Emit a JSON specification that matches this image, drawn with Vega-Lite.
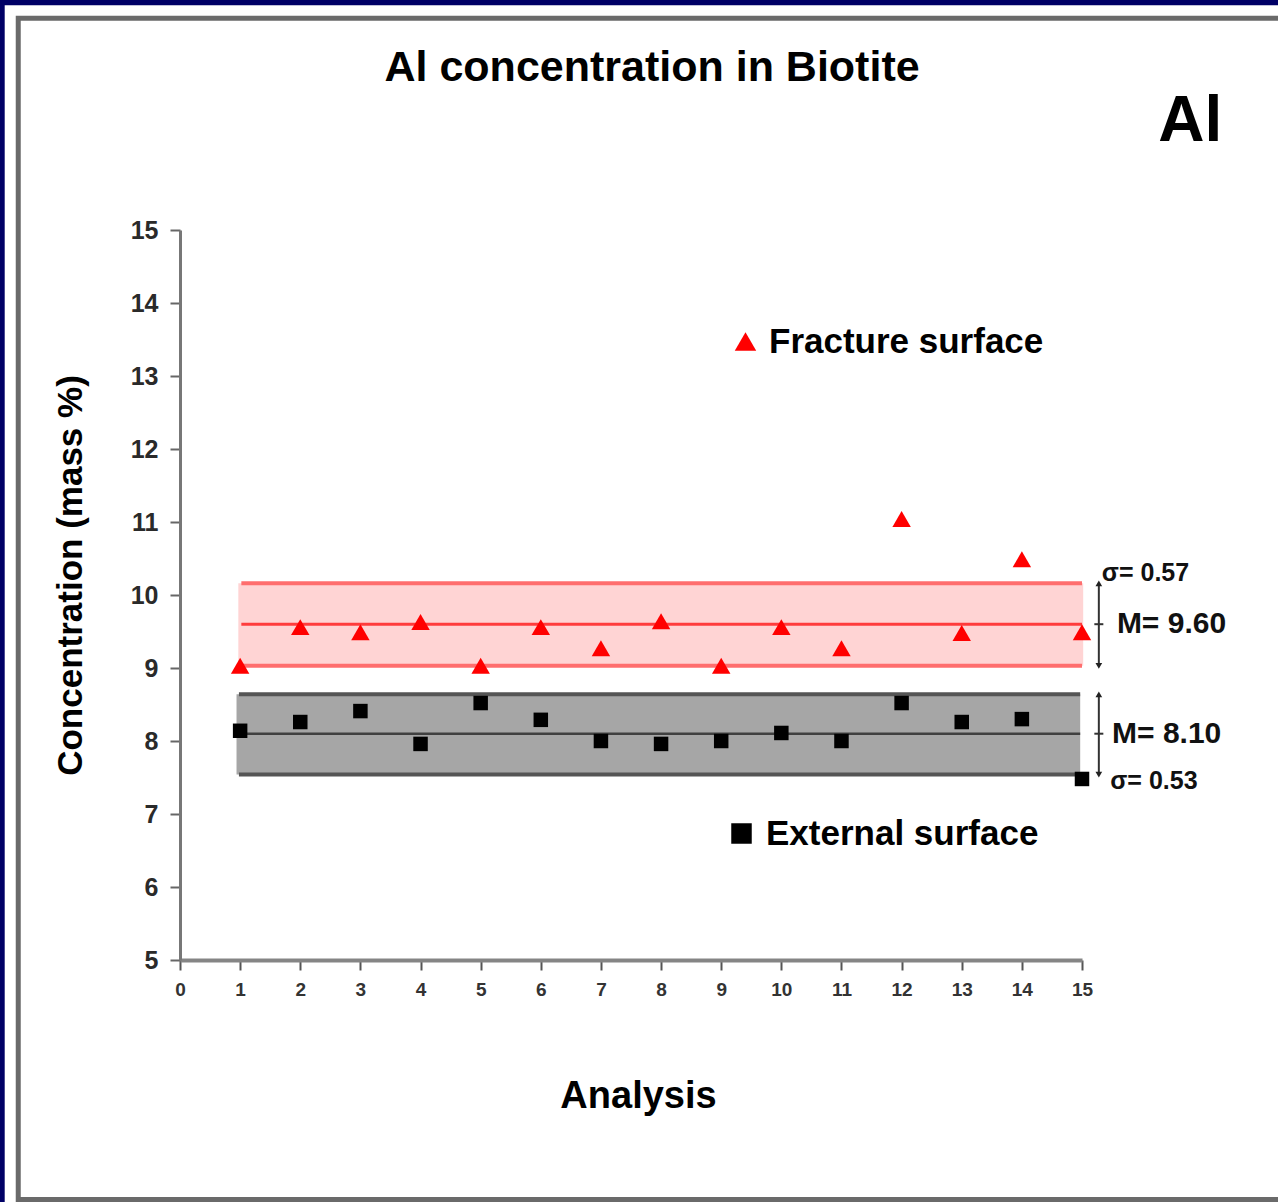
{
  "$schema": "https://vega.github.io/schema/vega-lite/v6.json",
  "width": 902,
  "height": 730,
  "autosize": {"type": "none"},
  "padding": {"left": 180, "top": 230, "right": 196, "bottom": 242},
  "background": "white",
  "config": {
    "view": {"stroke": null},
    "font": "Liberation Sans",
    "axisX": {"grid": false, "zindex": 1, "labelFlush": false, "labelOverlap": false,
      "domainColor": "#858585", "domainWidth": 4, "tickColor": "#555555", "tickWidth": 2, "tickSize": 10,
      "labelFontSize": 19, "labelColor": "#333333", "labelPadding": 10, "labelFontWeight": "bold",
      "titleFontSize": 38, "titleFontWeight": "bold", "titleColor": "#000000",
      "titleX": 458, "titleY": 136, "titleBaseline": "middle", "titleAlign": "center"},
    "axisY": {"grid": false, "zindex": 1, "labelOverlap": false,
      "domainColor": "#777777", "domainWidth": 3, "tickColor": "#666666", "tickWidth": 2, "tickSize": 10,
      "labelFontSize": 25, "labelFontWeight": "bold", "labelColor": "#2a2a2a", "labelPadding": 12,
      "titleFontSize": 35, "titleFontWeight": "bold", "titleColor": "#000000",
      "titleX": -110, "titleY": 345, "titleBaseline": "middle", "titleAlign": "center", "titleAngle": -90}
  },
  "datasets": {
    "points": [
      {"analysis": 1, "value": 9.03, "surface": "Fracture surface"},
      {"analysis": 2, "value": 9.56, "surface": "Fracture surface"},
      {"analysis": 3, "value": 9.49, "surface": "Fracture surface"},
      {"analysis": 4, "value": 9.63, "surface": "Fracture surface"},
      {"analysis": 5, "value": 9.03, "surface": "Fracture surface"},
      {"analysis": 6, "value": 9.56, "surface": "Fracture surface"},
      {"analysis": 7, "value": 9.27, "surface": "Fracture surface"},
      {"analysis": 8, "value": 9.64, "surface": "Fracture surface"},
      {"analysis": 9, "value": 9.03, "surface": "Fracture surface"},
      {"analysis": 10, "value": 9.56, "surface": "Fracture surface"},
      {"analysis": 11, "value": 9.27, "surface": "Fracture surface"},
      {"analysis": 12, "value": 11.04, "surface": "Fracture surface"},
      {"analysis": 13, "value": 9.48, "surface": "Fracture surface"},
      {"analysis": 14, "value": 10.49, "surface": "Fracture surface"},
      {"analysis": 15, "value": 9.49, "surface": "Fracture surface"},
      {"analysis": 1, "value": 8.14, "surface": "External surface"},
      {"analysis": 2, "value": 8.26, "surface": "External surface"},
      {"analysis": 3, "value": 8.41, "surface": "External surface"},
      {"analysis": 4, "value": 7.96, "surface": "External surface"},
      {"analysis": 5, "value": 8.52, "surface": "External surface"},
      {"analysis": 6, "value": 8.29, "surface": "External surface"},
      {"analysis": 7, "value": 8.0, "surface": "External surface"},
      {"analysis": 8, "value": 7.96, "surface": "External surface"},
      {"analysis": 9, "value": 8.0, "surface": "External surface"},
      {"analysis": 10, "value": 8.11, "surface": "External surface"},
      {"analysis": 11, "value": 8.0, "surface": "External surface"},
      {"analysis": 12, "value": 8.52, "surface": "External surface"},
      {"analysis": 13, "value": 8.26, "surface": "External surface"},
      {"analysis": 14, "value": 8.3, "surface": "External surface"},
      {"analysis": 15, "value": 7.48, "surface": "External surface"}
    ],
    "bands": [
      {"surface": "Fracture surface", "mean": 9.6, "sd": 0.57, "lo": 9.03, "hi": 10.16, "meanLabel": "M= 9.60", "sdLabel": "σ= 0.57"},
      {"surface": "External surface", "mean": 8.1, "sd": 0.53, "lo": 7.54, "hi": 8.64, "meanLabel": "M= 8.10", "sdLabel": "σ= 0.53"}
    ]
  },
  "layer": [
    {
      "data": {"name": "points"},
      "transform": [{"filter": "datum.surface === 'Fracture surface'"}],
      "mark": {"type": "point", "opacity": 0, "size": 1},
      "encoding": {
        "x": {"field": "analysis", "type": "quantitative", "title": "Analysis", "scale": {"domain": [0, 15], "nice": false, "zero": false},
          "axis": {"values": [0,1,2,3,4,5,6,7,8,9,10,11,12,13,14,15], "format": "d"}},
        "y": {"field": "value", "type": "quantitative", "title": "Concentration (mass %)", "scale": {"domain": [5, 15], "nice": false, "zero": false},
          "axis": {"values": [5,6,7,8,9,10,11,12,13,14,15], "format": "d"}}
      }
    },
    {
      "data": {"values": [{"panel": "outer"}]},
      "mark": {"type": "rect", "fill": null, "stroke": "#000066", "strokeWidth": 9},
      "encoding": {
        "x": {"datum": -2.99, "type": "quantitative", "title": "Analysis", "scale": {"domain": [0, 15], "nice": false, "zero": false}},
        "x2": {"datum": 18.9},
        "y": {"datum": 18.14, "type": "quantitative", "title": "Concentration (mass %)", "scale": {"domain": [5, 15], "nice": false, "zero": false}},
        "y2": {"datum": 1.2}
      }
    },
    {
      "data": {"values": [{"panel": "frame"}]},
      "mark": {"type": "rect", "fill": null, "stroke": "#6a6a6a", "strokeWidth": 5},
      "encoding": {
        "x": {"datum": -2.69, "type": "quantitative", "title": "Analysis", "scale": {"domain": [0, 15], "nice": false, "zero": false}},
        "x2": {"datum": 18.45},
        "y": {"datum": 17.9, "type": "quantitative", "title": "Concentration (mass %)", "scale": {"domain": [5, 15], "nice": false, "zero": false}},
        "y2": {"datum": 1.72}
      }
    },
    {
      "data": {"name": "bands"},
      "transform": [{"filter": "datum.surface === 'Fracture surface'"}],
      "layer": [
        {
          "mark": {"type": "rect", "fill": "#ffd4d4"},
          "encoding": {
            "x": {"datum": 0.97, "type": "quantitative", "title": "Analysis", "scale": {"domain": [0, 15], "nice": false, "zero": false}},
            "x2": {"datum": 15.02},
            "y": {"field": "lo", "type": "quantitative", "title": "Concentration (mass %)", "scale": {"domain": [5, 15], "nice": false, "zero": false}},
            "y2": {"field": "hi"}
          }
        },
        {
          "mark": {"type": "rule", "color": "#ff6e6e", "strokeWidth": 4},
          "encoding": {
            "x": {"datum": 1.02, "type": "quantitative", "title": "Analysis", "scale": {"domain": [0, 15], "nice": false, "zero": false}},
            "x2": {"datum": 15.0},
            "y": {"field": "hi", "type": "quantitative", "title": "Concentration (mass %)", "scale": {"domain": [5, 15], "nice": false, "zero": false}}
          }
        },
        {
          "mark": {"type": "rule", "color": "#ff6e6e", "strokeWidth": 4},
          "encoding": {
            "x": {"datum": 1.02, "type": "quantitative", "title": "Analysis", "scale": {"domain": [0, 15], "nice": false, "zero": false}},
            "x2": {"datum": 15.0},
            "y": {"field": "lo", "type": "quantitative", "title": "Concentration (mass %)", "scale": {"domain": [5, 15], "nice": false, "zero": false}}
          }
        },
        {
          "mark": {"type": "rule", "color": "#ff3c3c", "strokeWidth": 3},
          "encoding": {
            "x": {"datum": 1.02, "type": "quantitative", "title": "Analysis", "scale": {"domain": [0, 15], "nice": false, "zero": false}},
            "x2": {"datum": 15.0},
            "y": {"field": "mean", "type": "quantitative", "title": "Concentration (mass %)", "scale": {"domain": [5, 15], "nice": false, "zero": false}}
          }
        }
      ]
    },
    {
      "data": {"name": "bands"},
      "transform": [{"filter": "datum.surface === 'External surface'"}],
      "layer": [
        {
          "mark": {"type": "rect", "fill": "#a6a6a6"},
          "encoding": {
            "x": {"datum": 0.94, "type": "quantitative", "title": "Analysis", "scale": {"domain": [0, 15], "nice": false, "zero": false}},
            "x2": {"datum": 14.97},
            "y": {"field": "lo", "type": "quantitative", "title": "Concentration (mass %)", "scale": {"domain": [5, 15], "nice": false, "zero": false}},
            "y2": {"field": "hi"}
          }
        },
        {
          "mark": {"type": "rule", "color": "#555555", "strokeWidth": 4},
          "encoding": {
            "x": {"datum": 0.98, "type": "quantitative", "title": "Analysis", "scale": {"domain": [0, 15], "nice": false, "zero": false}},
            "x2": {"datum": 14.97},
            "y": {"field": "hi", "type": "quantitative", "title": "Concentration (mass %)", "scale": {"domain": [5, 15], "nice": false, "zero": false}}
          }
        },
        {
          "mark": {"type": "rule", "color": "#555555", "strokeWidth": 4},
          "encoding": {
            "x": {"datum": 0.98, "type": "quantitative", "title": "Analysis", "scale": {"domain": [0, 15], "nice": false, "zero": false}},
            "x2": {"datum": 14.97},
            "y": {"field": "lo", "type": "quantitative", "title": "Concentration (mass %)", "scale": {"domain": [5, 15], "nice": false, "zero": false}}
          }
        },
        {
          "mark": {"type": "rule", "color": "#404040", "strokeWidth": 2.5},
          "encoding": {
            "x": {"datum": 0.98, "type": "quantitative", "title": "Analysis", "scale": {"domain": [0, 15], "nice": false, "zero": false}},
            "x2": {"datum": 14.97},
            "y": {"field": "mean", "type": "quantitative", "title": "Concentration (mass %)", "scale": {"domain": [5, 15], "nice": false, "zero": false}}
          }
        }
      ]
    },
    {
      "data": {"name": "bands"},
      "layer": [
        {
          "mark": {"type": "rule", "color": "#333333", "strokeWidth": 2},
          "encoding": {
            "x": {"datum": 15.28, "type": "quantitative", "title": "Analysis", "scale": {"domain": [0, 15], "nice": false, "zero": false}},
            "y": {"field": "lo", "type": "quantitative", "title": "Concentration (mass %)", "scale": {"domain": [5, 15], "nice": false, "zero": false}},
            "y2": {"field": "hi"}
          }
        },
        {
          "mark": {"type": "point", "shape": "triangle-up", "filled": true, "size": 45, "color": "#222222", "opacity": 1},
          "encoding": {
            "x": {"datum": 15.28, "type": "quantitative", "title": "Analysis", "scale": {"domain": [0, 15], "nice": false, "zero": false}},
            "y": {"field": "hi", "type": "quantitative", "title": "Concentration (mass %)", "scale": {"domain": [5, 15], "nice": false, "zero": false}}
          }
        },
        {
          "mark": {"type": "point", "shape": "triangle-down", "filled": true, "size": 45, "color": "#222222", "opacity": 1},
          "encoding": {
            "x": {"datum": 15.28, "type": "quantitative", "title": "Analysis", "scale": {"domain": [0, 15], "nice": false, "zero": false}},
            "y": {"field": "lo", "type": "quantitative", "title": "Concentration (mass %)", "scale": {"domain": [5, 15], "nice": false, "zero": false}}
          }
        },
        {
          "mark": {"type": "tick", "orient": "horizontal", "size": 9, "thickness": 2, "color": "#333333", "opacity": 1},
          "encoding": {
            "x": {"datum": 15.28, "type": "quantitative", "title": "Analysis", "scale": {"domain": [0, 15], "nice": false, "zero": false}},
            "y": {"field": "mean", "type": "quantitative", "title": "Concentration (mass %)", "scale": {"domain": [5, 15], "nice": false, "zero": false}}
          }
        }
      ]
    },
    {
      "data": {"name": "points"},
      "transform": [{"filter": "datum.surface === 'Fracture surface'"}],
      "mark": {"type": "point", "filled": true, "opacity": 1, "size": 340},
      "encoding": {
        "x": {"field": "analysis", "type": "quantitative", "title": "Analysis", "scale": {"domain": [0, 15], "nice": false, "zero": false}},
        "y": {"field": "value", "type": "quantitative", "title": "Concentration (mass %)", "scale": {"domain": [5, 15], "nice": false, "zero": false}},
        "color": {"field": "surface", "type": "nominal", "scale": {"domain": ["Fracture surface"], "range": ["#ff0000"]},
          "legend": {"title": null, "orient": "none", "legendX": 548, "legendY": 94, "padding": 0, "symbolSize": 460, "labelFontSize": 35, "labelFontWeight": "bold", "labelColor": "#000000", "labelOffset": 6, "labelLimit": 0, "symbolStrokeWidth": 0, "zindex": 2}},
        "shape": {"field": "surface", "type": "nominal", "scale": {"domain": ["Fracture surface"], "range": ["triangle-up"]},
          "legend": {"title": null, "orient": "none", "legendX": 548, "legendY": 94, "padding": 0, "symbolSize": 460, "labelFontSize": 35, "labelFontWeight": "bold", "labelColor": "#000000", "labelOffset": 6, "labelLimit": 0, "symbolStrokeWidth": 0, "zindex": 2}}
      }
    },
    {
      "data": {"name": "points"},
      "transform": [{"filter": "datum.surface === 'External surface'"}],
      "mark": {"type": "point", "filled": true, "opacity": 1, "size": 210},
      "encoding": {
        "x": {"field": "analysis", "type": "quantitative", "title": "Analysis", "scale": {"domain": [0, 15], "nice": false, "zero": false}},
        "y": {"field": "value", "type": "quantitative", "title": "Concentration (mass %)", "scale": {"domain": [5, 15], "nice": false, "zero": false}},
        "color": {"field": "surface", "type": "nominal", "scale": {"domain": ["External surface"], "range": ["#000000"]},
          "legend": {"title": null, "orient": "none", "legendX": 544, "legendY": 586, "padding": 0, "symbolSize": 420, "labelFontSize": 35, "labelFontWeight": "bold", "labelColor": "#000000", "labelOffset": 7, "labelLimit": 0, "symbolStrokeWidth": 0, "zindex": 2}},
        "shape": {"field": "surface", "type": "nominal", "scale": {"domain": ["External surface"], "range": ["square"]},
          "legend": {"title": null, "orient": "none", "legendX": 544, "legendY": 586, "padding": 0, "symbolSize": 420, "labelFontSize": 35, "labelFontWeight": "bold", "labelColor": "#000000", "labelOffset": 7, "labelLimit": 0, "symbolStrokeWidth": 0, "zindex": 2}}
      }
    },
    {
      "data": {"name": "bands"},
      "transform": [{"filter": "datum.surface === 'Fracture surface'"}],
      "layer": [
        {
          "mark": {"type": "text", "align": "left", "baseline": "middle", "fontSize": 25, "fontWeight": "bold", "color": "#111111", "dy": -10},
          "encoding": {
            "x": {"datum": 15.33, "type": "quantitative", "title": "Analysis", "scale": {"domain": [0, 15], "nice": false, "zero": false}},
            "y": {"field": "hi", "type": "quantitative", "title": "Concentration (mass %)", "scale": {"domain": [5, 15], "nice": false, "zero": false}},
            "text": {"field": "sdLabel"}
          }
        },
        {
          "mark": {"type": "text", "align": "left", "baseline": "middle", "fontSize": 30, "fontWeight": "bold", "color": "#111111"},
          "encoding": {
            "x": {"datum": 15.58, "type": "quantitative", "title": "Analysis", "scale": {"domain": [0, 15], "nice": false, "zero": false}},
            "y": {"field": "mean", "type": "quantitative", "title": "Concentration (mass %)", "scale": {"domain": [5, 15], "nice": false, "zero": false}},
            "text": {"field": "meanLabel"}
          }
        }
      ]
    },
    {
      "data": {"name": "bands"},
      "transform": [{"filter": "datum.surface === 'External surface'"}],
      "layer": [
        {
          "mark": {"type": "text", "align": "left", "baseline": "middle", "fontSize": 25, "fontWeight": "bold", "color": "#111111", "dy": 6},
          "encoding": {
            "x": {"datum": 15.47, "type": "quantitative", "title": "Analysis", "scale": {"domain": [0, 15], "nice": false, "zero": false}},
            "y": {"field": "lo", "type": "quantitative", "title": "Concentration (mass %)", "scale": {"domain": [5, 15], "nice": false, "zero": false}},
            "text": {"field": "sdLabel"}
          }
        },
        {
          "mark": {"type": "text", "align": "left", "baseline": "middle", "fontSize": 30, "fontWeight": "bold", "color": "#111111"},
          "encoding": {
            "x": {"datum": 15.5, "type": "quantitative", "title": "Analysis", "scale": {"domain": [0, 15], "nice": false, "zero": false}},
            "y": {"field": "mean", "type": "quantitative", "title": "Concentration (mass %)", "scale": {"domain": [5, 15], "nice": false, "zero": false}},
            "text": {"field": "meanLabel"}
          }
        }
      ]
    },
    {
      "data": {"values": [{"label": "Al concentration in Biotite"}]},
      "mark": {"type": "text", "align": "center", "baseline": "middle", "fontSize": 43, "fontWeight": "bold", "color": "#000000"},
      "encoding": {
        "x": {"datum": 7.85, "type": "quantitative", "title": "Analysis", "scale": {"domain": [0, 15], "nice": false, "zero": false}},
        "y": {"datum": 17.22, "type": "quantitative", "title": "Concentration (mass %)", "scale": {"domain": [5, 15], "nice": false, "zero": false}},
        "text": {"field": "label"}
      }
    },
    {
      "data": {"values": [{"label": "Al"}]},
      "mark": {"type": "text", "align": "center", "baseline": "middle", "fontSize": 64, "fontWeight": "bold", "color": "#000000"},
      "encoding": {
        "x": {"datum": 16.8, "type": "quantitative", "title": "Analysis", "scale": {"domain": [0, 15], "nice": false, "zero": false}},
        "y": {"datum": 16.48, "type": "quantitative", "title": "Concentration (mass %)", "scale": {"domain": [5, 15], "nice": false, "zero": false}},
        "text": {"field": "label"}
      }
    }
  ],
  "resolve": {"scale": {"color": "independent", "shape": "independent"}, "legend": {"color": "independent", "shape": "independent"}}
}
